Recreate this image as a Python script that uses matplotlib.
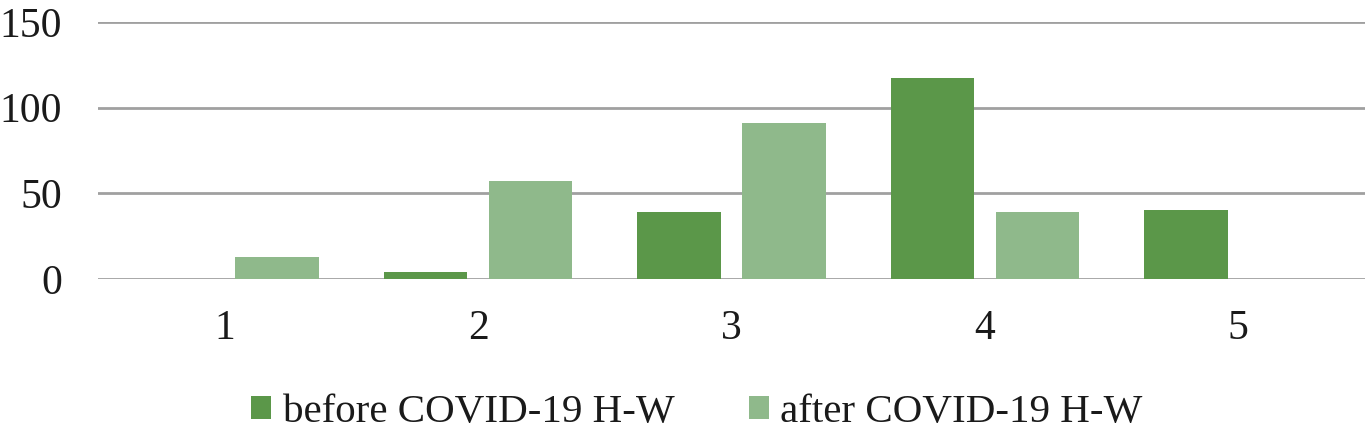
import matplotlib
matplotlib.use("Agg")
import matplotlib.pyplot as plt
import numpy as np

categories = ["1", "2", "3", "4", "5"]
before = [0, 4, 39, 117, 40]
after = [13, 57, 91, 39, 0]
yticks = [0, 50, 100, 150]

plt.rcParams['font.family'] = ['Liberation Serif', 'DejaVu Serif']

fig = plt.figure(figsize=(13.65, 4.38), dpi=100)
ax = fig.add_axes([0.0718, 0.363, 0.9282, 0.587])
x = np.arange(len(categories))
w = 0.33
off = 0.207
ax.bar(x - off, before, w, color="#5B9749", label="before COVID-19 H-W", zorder=3)
ax.bar(x + off, after, w, color="#8FB98B", label="after COVID-19 H-W", zorder=3)
ax.set_xlim(-0.5, len(categories) - 0.5)
ax.set_ylim(0, 150)
ax.set_yticks(yticks)
ax.set_xticks(x)
ax.set_xticklabels(categories)
ax.tick_params(axis="both", length=0, labelsize=30, colors="#1a1a1a")
ax.tick_params(axis="y", pad=26)
ax.tick_params(axis="x", pad=22)
for s in ax.spines.values():
    s.set_visible(False)
ax.yaxis.grid(True, color="#A0A0A0", linewidth=2, zorder=0)
ax.set_axisbelow(True)
leg = fig.legend(loc="center", bbox_to_anchor=(0.5106, 0.058), ncol=2, frameon=False,
                 fontsize=29.5, handlelength=0.49, handleheight=0.46, handletextpad=0.29,
                 columnspacing=1.8, borderpad=0.2)
for t in leg.get_texts():
    t.set_color("#1a1a1a")
fig.savefig("out.png", dpi=100)
